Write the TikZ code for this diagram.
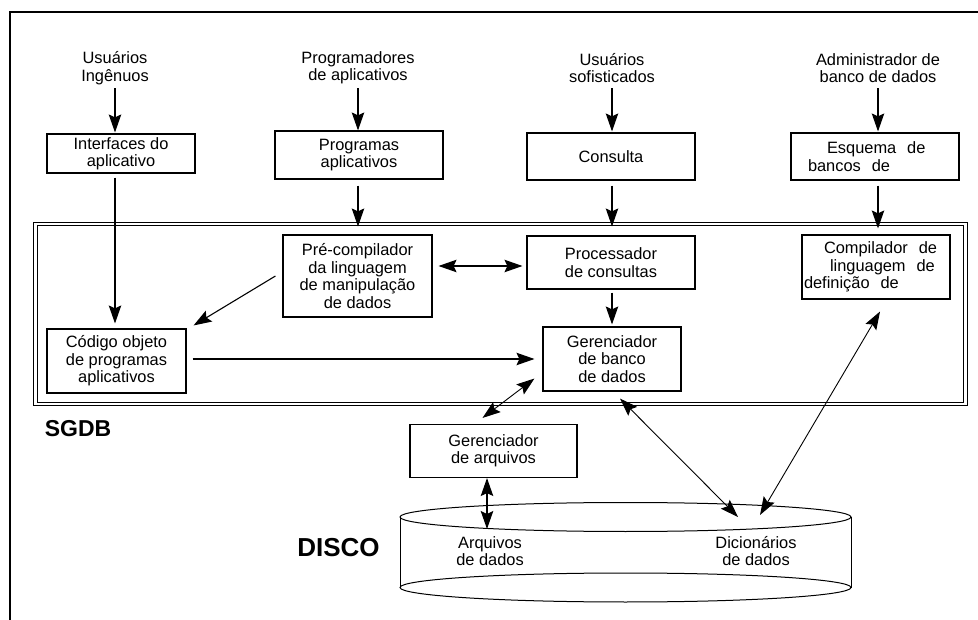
\documentclass[tikz,border=0pt]{standalone}
\usepackage{fontspec}
\setmainfont{Liberation Sans}
\usetikzlibrary{arrows.meta}
\begin{document}
\begin{tikzpicture}[x=1pt,y=-1pt,
  >={Stealth[length=18pt,width=12.5pt,inset=3pt]},
  txt/.style={font=\fontsize{16.4}{17.4}\selectfont, align=center, inner sep=0pt},
  lbl/.style={txt, minimum height=40pt},
  box/.style={txt, draw, line width=1.1pt},
  arr/.style={line width=1.1pt, ->},
  darr/.style={line width=1.1pt, <->},
  tarr/.style={line width=0.9pt, <->},
  big/.style={font=\bfseries\fontsize{#1}{#1}\selectfont, inner sep=0pt}]
\useasboundingbox (0,0) rectangle (978,620);
% page frame
\draw[line width=1.1pt] (10,620) -- (10,12) -- (978,12);
% SGDB double frame
\draw[line width=0.9pt] (33,222) rectangle (967,405.5);
\draw[line width=0.9pt] (37,225.5) rectangle (963.5,402);
% top labels
\node[lbl] (u1) at (115,68) {Usuários\\Ingênuos};
\node[lbl] (u2) at (358,68) {Programadores\\de aplicativos};
\node[lbl] (u3) at (612,68) {Usuários\\sofisticados};
\node[lbl] (u4) at (878,68) {Administrador de\\banco de dados};
% boxes
\node[box, minimum width=148pt, minimum height=39pt] (iface) at (121,153.5) {Interfaces do\\aplicativo};
\node[box, minimum width=168pt, minimum height=48pt] (prog) at (359,155) {Programas\\aplicativos};
\node[box, minimum width=168pt, minimum height=47pt] (consulta) at (611,156.5) {Consulta};
\node[box, align=left, text width=134pt, inner xsep=17pt, minimum height=47pt] (esquema) at (875,156.5) {\hspace*{19pt}Esquema\ \ de\\bancos\ \ de};
\node[box, minimum width=149pt, minimum height=82pt] (precomp) at (357.5,276) {Pré-compilador\\da linguagem\\de manipulação\\de dados};
\node[box, minimum width=168pt, minimum height=53pt] (proc) at (611,262.5) {Processador\\de consultas};
\node[box, align=left, text width=144pt, inner xsep=2pt, minimum height=64pt] (compil) at (876,267) {\hspace*{20pt}Compilador\ \ de\\\hspace*{26pt}linguagem\ \ de\\definição\ \ de};
\node[box, minimum width=139pt, minimum height=64pt] (codigo) at (116.5,361) {Código objeto\\de programas\\aplicativos};
\node[box, minimum width=138pt, minimum height=64pt] (gbd) at (612,359) {Gerenciador\\de banco\\de dados};
\node[box, minimum width=167pt, minimum height=53pt] (garq) at (493.5,451) {Gerenciador\\de arquivos};
% big labels
\node[big=23] (sgdb) at (78,428.5) {SGDB};
\node[big=26] (disco) at (338.5,548) {DISCO};
% disk
\draw[line width=1pt] (625.5,517) ellipse [x radius=225.5, y radius=14.5];
\draw[line width=1pt] (625.5,587.5) ellipse [x radius=225.5, y radius=14.5];
\draw[line width=1pt] (400,517) -- (400,587.5) (851,517) -- (851,587.5);
\node[txt] (arq) at (490,551) {Arquivos\\de dados};
\node[txt] (dic) at (756,551) {Dicionários\\de dados};
\coordinate (arqtop) at (487,529);
\coordinate (dk1) at (738,517);
\coordinate (dk2) at (760,515);
% connectors
\draw[arr, shorten >=1pt] (u1) -- (u1 |- iface.north);
\draw[arr] (u2) -- (u2 |- prog.north);
\draw[arr, shorten <=6pt, shorten >=8pt] (prog.south -| u2) -- (u2 |- precomp.north);
\draw[arr, shorten >=1pt] (u3) -- (u3 |- consulta.north);
\draw[arr, shorten <=5pt, shorten >=9pt] (consulta.south -| u3) -- (u3 |- proc.north);
\draw[arr, shorten >=1pt] (u4) -- (u4 |- esquema.north);
\draw[arr, shorten <=5pt, shorten >=6pt] (esquema.south -| u4) -- (u4 |- compil.north);
\draw[arr, shorten <=4pt, shorten >=5pt] (iface.south -| u1) -- (u1 |- codigo.north);
\draw[arr, shorten <=3pt, shorten >=2pt] (proc.south -| u3) -- (u3 |- gbd.north);
\draw[darr, shorten <=6pt, shorten >=4pt] ([yshift=10pt]precomp.east) -- ([yshift=10pt]precomp.east -| proc.west);
\draw[arr, shorten <=6pt, shorten >=8pt] ([yshift=2pt]codigo.east) -- ([yshift=2pt]codigo.east -| gbd.west);
\draw[arr] ([xshift=-7pt]precomp.west) -- ([xshift=7pt,yshift=3pt]codigo.north east);
\draw[tarr] ([xshift=-11pt,yshift=6pt]garq.north) -- ([xshift=-8pt,yshift=13pt]gbd.south west);
\draw[darr] (garq.south -| arqtop) -- (arqtop);
\draw[tarr] ([xshift=8pt,yshift=-7pt]gbd.south) -- (dk1);
\draw[tarr] (dk2) -- ([xshift=4pt,yshift=-12pt]compil.south);
\end{tikzpicture}
\end{document}
